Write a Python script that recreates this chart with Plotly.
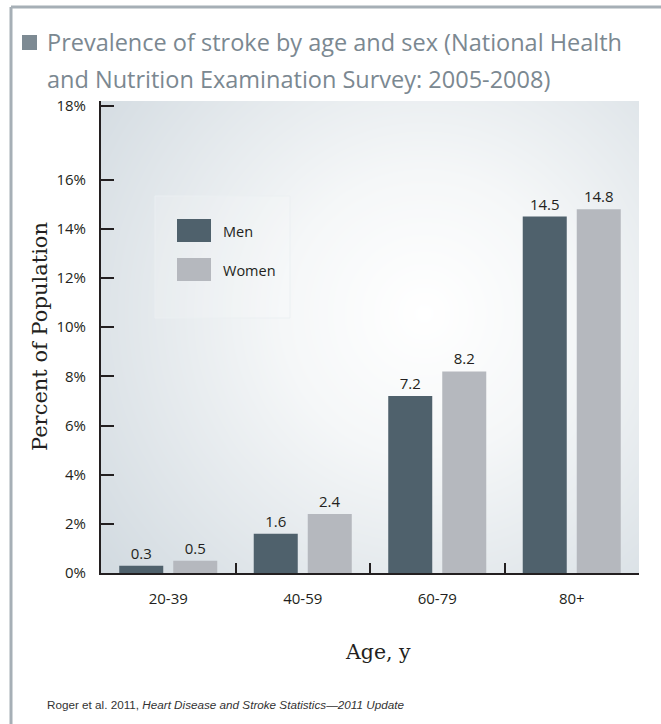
import numpy as np
import plotly.graph_objects as go

# ---- data ----
age_groups = ["20-39", "40-59", "60-79", "80+"]
men = [0.3, 1.6, 7.2, 14.5]
women = [0.5, 2.4, 8.2, 14.8]
ytick_vals = [0, 2, 4, 6, 8, 10, 12, 14, 16, 19]
ytick_text = ["0%", "2%", "4%", "6%", "8%", "10%", "12%", "14%", "16%", "18%"]
series_names = ["Men", "Women"]

# ---- style ----
MEN_COLOR = "#4f616c"
WOMEN_COLOR = "#b5b8be"
TEXT = "#231f20"
FRAME = "#a6afb6"
TITLE_COLOR = "#7b8891"
SANS = "Open Sans, Noto Sans, sans-serif"
SERIF = "DejaVu Serif, serif"

W, H = 661, 724
L, R, T, B = 101, 22, 101, 151

fig = go.Figure()

# background radial gradient (styling only) on hidden base axes
gx = np.linspace(0, 1, 80)
gy = np.linspace(0, 1, 80)
XX, YY = np.meshgrid(gx, gy)
dist = np.sqrt(((XX - 0.6) / 0.75) ** 2 + ((YY - 0.55) / 0.85) ** 2)
dist = np.clip(dist, 0, 1)
fig.add_trace(go.Heatmap(
    x=gx, y=gy, z=dist, zsmooth="best", showscale=False, hoverinfo="skip",
    colorscale=[[0, "#ffffff"], [0.35, "#f5f7f8"], [1, "#d3dbe1"]],
    zmin=0, zmax=1, xaxis="x", yaxis="y",
))

for name, vals, col in [(series_names[0], men, MEN_COLOR), (series_names[1], women, WOMEN_COLOR)]:
    fig.add_trace(go.Bar(
        x=age_groups, y=vals, name=name, marker=dict(color=col, line=dict(width=0)),
        text=[f"{v:.1f}" for v in vals], textposition="outside",
        textfont=dict(family=SANS, size=15, color=TEXT),
        cliponaxis=False, xaxis="x2", yaxis="y2", showlegend=False,
    ))

shapes = []
# frame
shapes.append(dict(type="line", xref="paper", yref="paper", xsizemode="pixel", ysizemode="pixel",
                   xanchor=0, yanchor=1, x0=11 - L, x1=W - L, y0=T - 7, y1=T - 7,
                   line=dict(color=FRAME, width=3)))
shapes.append(dict(type="line", xref="paper", yref="paper", xsizemode="pixel", ysizemode="pixel",
                   xanchor=0, yanchor=1, x0=11 - L, x1=11 - L, y0=T - 7, y1=T - H - 5,
                   line=dict(color=FRAME, width=3)))
# title bullet
shapes.append(dict(type="rect", xref="paper", yref="paper", xsizemode="pixel", ysizemode="pixel",
                   xanchor=0, yanchor=1, x0=22 - L, x1=37 - L, y0=T - 50, y1=T - 35,
                   fillcolor="#7d8a93", line=dict(width=0)))
# legend box
shapes.append(dict(type="rect", xref="paper", yref="paper", xsizemode="pixel", ysizemode="pixel",
                   xanchor=0, yanchor=1, x0=155 - L, x1=290 - L, y0=T - 318, y1=T - 196,
                   fillcolor="rgba(255,255,255,0.15)", line=dict(color="rgba(235,239,242,0.9)", width=1)))
# legend swatches
for i, col in enumerate([MEN_COLOR, WOMEN_COLOR]):
    top = 219 + i * 39
    shapes.append(dict(type="rect", xref="paper", yref="paper", xsizemode="pixel", ysizemode="pixel",
                       xanchor=0, yanchor=1, x0=177 - L, x1=211 - L, y0=T - (top + 23), y1=T - top,
                       fillcolor=col, line=dict(width=0)))

annotations = []
for i, name in enumerate(series_names):
    annotations.append(dict(text=name, xref="paper", yref="paper", x=0, y=1,
                            xshift=221 - L, yshift=-(231 + i * 39 - T), xanchor="left", yanchor="middle",
                            showarrow=False, font=dict(family=SANS, size=14.5, color=TEXT)))
annotations.append(dict(text="Prevalence of stroke by age and sex (National Health", xref="paper", yref="paper",
                        x=0, y=1, xshift=45 - L, yshift=T - 42, xanchor="left", yanchor="middle",
                        showarrow=False, font=dict(family=SANS, size=23.5, color=TITLE_COLOR)))
annotations.append(dict(text="and Nutrition Examination Survey: 2005-2008)", xref="paper", yref="paper",
                        x=0, y=1, xshift=45 - L, yshift=T - 79, xanchor="left", yanchor="middle",
                        showarrow=False, font=dict(family=SANS, size=23.5, color=TITLE_COLOR)))
annotations.append(dict(text="Percent of Population", xref="paper", yref="paper", x=0, y=0.5,
                        xshift=40 - L, textangle=-90, xanchor="center", yanchor="middle",
                        showarrow=False, font=dict(family=SERIF, size=21, color=TEXT)))
annotations.append(dict(text="Age, y", xref="paper", yref="paper", x=0, y=0,
                        xshift=378 - L, yshift=-(652 - (H - B)), xanchor="center", yanchor="middle",
                        showarrow=False, font=dict(family=SERIF, size=20.5, color=TEXT)))
annotations.append(dict(text="Roger et al. 2011, <i>Heart Disease and Stroke Statistics\u20142011 Update</i>",
                        xref="paper", yref="paper", x=0, y=0,
                        xshift=45 - L, yshift=-(704 - (H - B)), xanchor="left", yanchor="middle",
                        showarrow=False, font=dict(family="Liberation Sans Narrow, Liberation Sans, sans-serif",
                                                   size=11.7, color="#333333")))

fig.update_layout(
    width=W, height=H, margin=dict(l=L, r=R, t=T, b=B, pad=0),
    paper_bgcolor="white", plot_bgcolor="white",
    barmode="group", bargap=0.197, bargroupgap=0.185,
    xaxis=dict(range=[0, 1], visible=False, fixedrange=True),
    yaxis=dict(range=[0, 1], visible=False, fixedrange=True),
    xaxis2=dict(overlaying="x", anchor="y2", type="category", showgrid=False,
                showline=True, linecolor=TEXT, linewidth=2,
                ticks="inside", tickson="boundaries", ticklen=10, tickwidth=1.5, tickcolor=TEXT,
                ticklabelstandoff=11, tickfont=dict(family=SANS, size=15, color=TEXT), zeroline=False),
    yaxis2=dict(overlaying="y", anchor="x2", range=[0, 19.2], showgrid=False, zeroline=False,
                showline=True, linecolor=TEXT, linewidth=2,
                tickvals=ytick_vals, ticktext=ytick_text,
                ticks="inside", ticklen=13, tickwidth=1.5, tickcolor=TEXT,
                ticklabelstandoff=10, tickfont=dict(family=SANS, size=15, color=TEXT)),
    shapes=shapes, annotations=annotations, showlegend=False,
)

fig.write_html("out.html")
